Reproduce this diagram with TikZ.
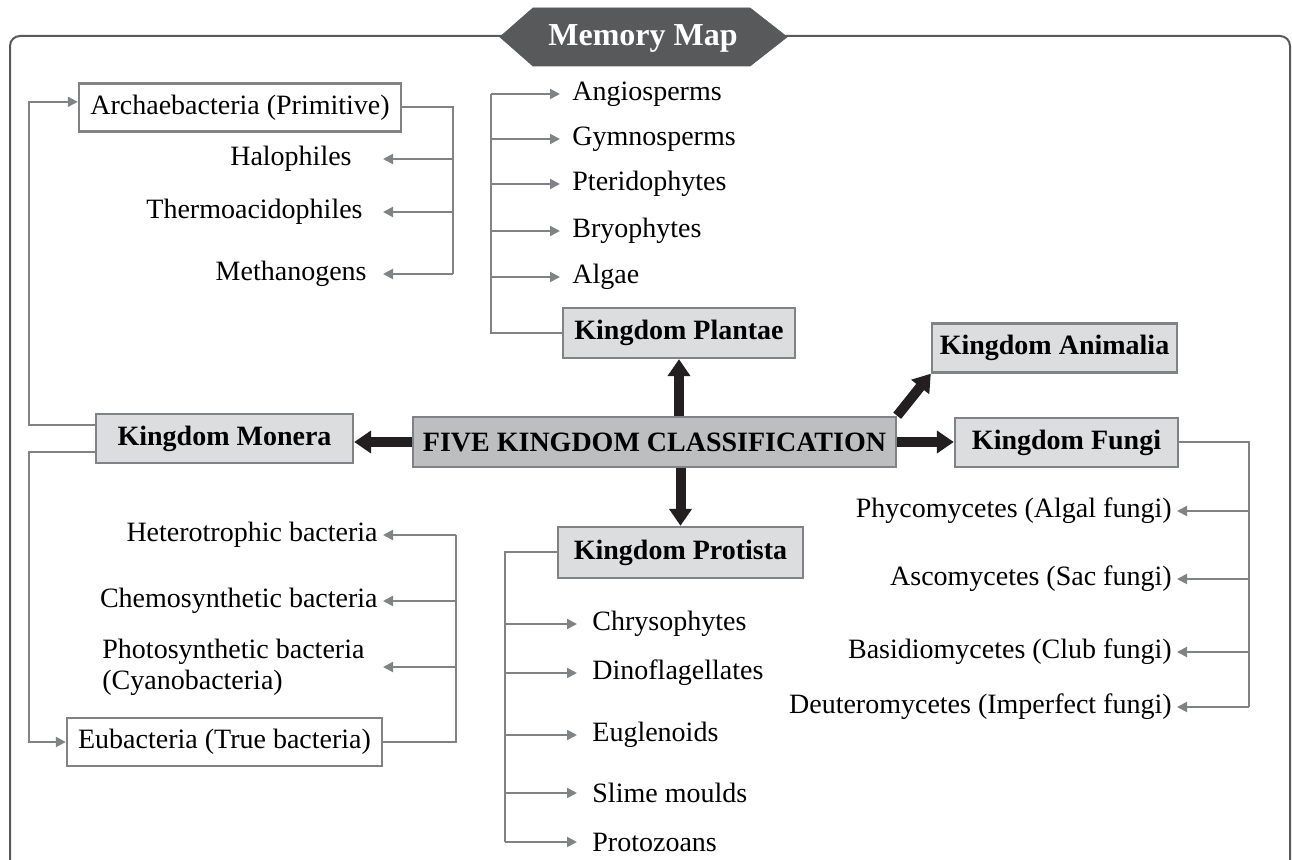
\documentclass[tikz,border=0pt]{standalone}
\usepackage{fontspec}
\setmainfont{Liberation Serif}
\usetikzlibrary{arrows.meta}
\definecolor{framegray}{HTML}{58595B}
\definecolor{linegray}{HTML}{808285}
\definecolor{kingfill}{HTML}{DCDDDF}
\definecolor{rootfill}{HTML}{BCBEC0}
\definecolor{arrowblack}{HTML}{231F20}
\begin{document}
\begin{tikzpicture}[x=0.5pt, y=-0.5pt,
    link/.style={draw=linegray, line width=1pt},
    arr/.style={link, -{Triangle[length=5pt,width=5pt]}},
    bigarr/.style={draw=arrowblack, line width=5pt, -{Triangle[length=8.5pt,width=11pt]}},
    kbox/.style={draw=linegray, line width=1.2pt, fill=kingfill, inner sep=0pt, minimum height=24.5pt, font=\fontsize{14}{16}\selectfont\bfseries},
    sbox/.style={draw=linegray, line width=1.2pt, fill=white, inner sep=0pt, minimum height=24pt, font=\fontsize{14}{16}\selectfont},
    leaf/.style={inner sep=0pt, font=\fontsize{14}{15.5}\selectfont}]
    \useasboundingbox (0,0) rectangle (1292,860);
    \clip (0,0) rectangle (1292,860);
    \draw[framegray, line width=1pt, rounded corners=5pt] (10,36) rectangle (1290,880);
    \filldraw[framegray] (500,37) -- (533,8) -- (750,8) -- (787,37) -- (750,66) -- (533,66) -- cycle;
    \node[font=\fontsize{16}{18}\selectfont\bfseries, text=white] (title) at (643,38) {Memory Map};

    \node[kbox, fill=rootfill, minimum width=241.5pt, minimum height=25pt] (five) at (654.5,442) {FIVE KINGDOM CLASSIFICATION};
    \node[kbox, minimum width=116pt, minimum height=25pt] (plantae) at (679,333) {Kingdom Plantae};
    \node[kbox, minimum width=122.5pt] (animalia) at (1054.5,348) {Kingdom Animalia};
    \node[kbox, minimum width=128.5pt] (monera) at (224.5,438.5) {Kingdom Monera};
    \node[kbox, minimum width=111.5pt] (fungi) at (1066.5,442.5) {Kingdom Fungi};
    \node[kbox, minimum width=122.5pt, minimum height=25.5pt] (protista) at (680.5,552.5) {Kingdom Protista};
    \node[sbox, minimum width=161pt] (arch) at (240,107.5) {Archaebacteria (Primitive)};
    \node[sbox, minimum width=157.5pt] (eubact) at (224.5,742) {Eubacteria (True bacteria)};

    \node[leaf, anchor=east] (halo) at (352,159) {Halophiles};
    \node[leaf, anchor=east] (thermo) at (363,212) {Thermoacidophiles};
    \node[leaf, anchor=east] (metha) at (367,274) {Methanogens};

    \node[leaf, anchor=west] (angio) at (572,94) {Angiosperms};
    \node[leaf, anchor=west] (gymno) at (572,139) {Gymnosperms};
    \node[leaf, anchor=west] (pterido) at (572,184) {Pteridophytes};
    \node[leaf, anchor=west] (bryo) at (572,231) {Bryophytes};
    \node[leaf, anchor=west] (algae) at (572,277) {Algae};

    \node[leaf, anchor=east] (hetero) at (378,535) {Heterotrophic bacteria};
    \node[leaf, anchor=east] (chemo) at (378,601) {Chemosynthetic bacteria};
    \node[leaf, anchor=west, align=left] (photo) at (102,667) {Photosynthetic bacteria\\(Cyanobacteria)};

    \node[leaf, anchor=west] (chryso) at (592,624) {Chrysophytes};
    \node[leaf, anchor=west] (dino) at (592,673) {Dinoflagellates};
    \node[leaf, anchor=west] (eugl) at (592,735) {Euglenoids};
    \node[leaf, anchor=west] (slime) at (592,793) {Slime moulds};
    \node[leaf, anchor=west] (proto) at (592,842) {Protozoans};

    \node[leaf, anchor=east] (phyco) at (1172,511) {Phycomycetes (Algal fungi)};
    \node[leaf, anchor=east] (asco) at (1172,579) {Ascomycetes (Sac fungi)};
    \node[leaf, anchor=east] (basi) at (1172,652) {Basidiomycetes (Club fungi)};
    \node[leaf, anchor=east] (deut) at (1172,707) {Deuteromycetes (Imperfect fungi)};

    \coordinate (aspine) at (453,0);
    \coordinate (atip) at (383,0);
    \coordinate (pspine) at (491,0);
    \coordinate (ptip) at (560,0);
    \coordinate (mspine) at (29,0);
    \coordinate (bspine) at (456,0);
    \coordinate (btip) at (383,0);
    \coordinate (rspine) at (505,0);
    \coordinate (rtip) at (577,0);
    \coordinate (fspine) at (1249,0);
    \coordinate (ftip) at (1177,0);

    \draw[bigarr] (plantae.south |- five.north) -- (plantae.south);
    \draw[bigarr] (protista.north |- five.south) -- (protista.north);
    \draw[bigarr] (five.west) -- (five.west -| monera.east);
    \draw[bigarr] (five.east) -- (five.east -| fungi.west);
    \draw[bigarr] (five.north east) -- (animalia.south west);

    \draw[link] (arch.east) -| (aspine |- metha);
    \foreach \n in {halo,thermo,metha}
        \draw[arr] (\n -| aspine) -- (\n -| atip);
    \draw[link] (plantae.west) -| (pspine |- angio);
    \foreach \n in {angio,gymno,pterido,bryo,algae}
        \draw[arr] (\n -| pspine) -- (\n -| ptip);
    \draw[arr] (monera.174) -| (mspine |- arch.178) -- (arch.178);
    \draw[arr] (monera.186) -| (mspine |- eubact.west) -- (eubact.west);
    \draw[link] (eubact.east) -| (bspine |- hetero);
    \foreach \n in {hetero,chemo,photo}
        \draw[arr] (\n -| bspine) -- (\n -| btip);
    \draw[link] (protista.west) -| (rspine |- proto);
    \foreach \n in {chryso,dino,eugl,slime,proto}
        \draw[arr] (\n -| rspine) -- (\n -| rtip);
    \draw[link] (fungi.east) -| (fspine |- deut);
    \foreach \n in {phyco,asco,basi,deut}
        \draw[arr] (\n -| fspine) -- (\n -| ftip);
\end{tikzpicture}
\end{document}
